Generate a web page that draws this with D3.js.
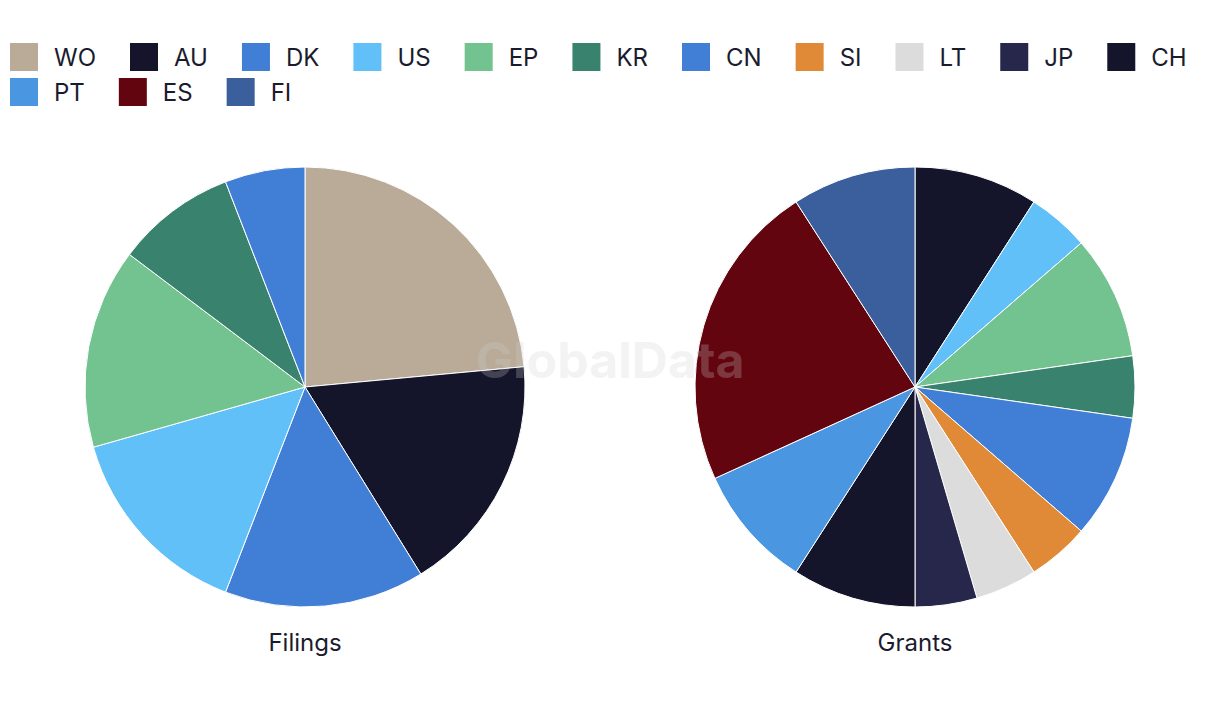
<!DOCTYPE html>
<html>
<head>
<meta charset="utf-8">
<script src="https://cdn.jsdelivr.net/npm/d3@7"></script>
<style>
  html, body { margin: 0; padding: 0; background: #ffffff; }
  svg { display: block; font-family: Inter, "Noto Sans", sans-serif; }
</style>
</head>
<body>
<svg id="chart" width="1220" height="720"></svg>
<script>
// ---- data ----
const categories = ["WO", "AU", "DK", "US", "EP", "KR", "CN", "SI", "LT", "JP", "CH", "PT", "ES", "FI"];
const colors     = ["#b9ab98", "#14152a", "#417fd6", "#62c0f9", "#73c390", "#39826d", "#417fd6",
                    "#e08937", "#dcdcdc", "#27274c", "#14152a", "#4a96e0", "#62050f", "#3b5e9d"];
const filings    = [8, 6, 5, 5, 5, 3, 2, 0, 0, 0, 0, 0, 0, 0];
const grants     = [0, 2, 0, 1, 2, 1, 2, 1, 1, 1, 2, 2, 5, 2];
const pieTitles  = ["Filings", "Grants"];

const W = 1220, H = 720;
const svg = d3.select("#chart");
const color = d3.scaleOrdinal().domain(categories).range(colors);
const textColor = "#1b1b2e";

// ---- legend (flow layout) ----
const legend = svg.append("g");
const sw = 28, gapText = 16, gapItem = 34, rowH = 35, legendX = 10, legendY = 43, maxW = 1215;
let lx = legendX, ly = legendY;
categories.forEach((c, i) => {
  const g = legend.append("g");
  const t = g.append("text")
    .attr("x", sw + gapText).attr("y", sw / 2)
    .attr("dy", "0.36em")
    .attr("font-size", 24).attr("fill", textColor)
    .text(c);
  const tw = t.node().getComputedTextLength();
  if (lx + sw + gapText + tw > maxW) { lx = legendX; ly += rowH; }
  g.attr("transform", `translate(${lx},${ly})`);
  g.insert("rect", "text").attr("width", sw).attr("height", sw).attr("fill", color(c));
  lx += sw + gapText + tw + gapItem;
});

// ---- pies ----
const radius = 220;
const centers = d3.scalePoint().domain(pieTitles).range([305, 915]);
const cy = 387;
const pie = d3.pie().sort(null).value(d => d.v);
const arc = d3.arc().innerRadius(0).outerRadius(radius);

[filings, grants].forEach((vals, k) => {
  const data = categories.map((c, i) => ({ c, v: vals[i] })).filter(d => d.v > 0);
  const g = svg.append("g").attr("transform", `translate(${centers(pieTitles[k])},${cy})`);
  g.selectAll("path").data(pie(data)).join("path")
    .attr("d", arc)
    .attr("fill", d => color(d.data.c))
    .attr("stroke", "#ffffff").attr("stroke-width", 1);
  g.append("text")
    .attr("x", 0).attr("y", radius + 44)
    .attr("text-anchor", "middle")
    .attr("font-size", 24).attr("fill", textColor)
    .text(pieTitles[k]);
});

// ---- watermark ----
svg.append("text")
  .attr("x", W / 2).attr("y", 378)
  .attr("text-anchor", "middle")
  .attr("font-size", 50).attr("font-weight", 700)
  .attr("fill", "#d0d0d0").attr("fill-opacity", 0.25)
  .text("GlobalData");
</script>
</body>
</html>
